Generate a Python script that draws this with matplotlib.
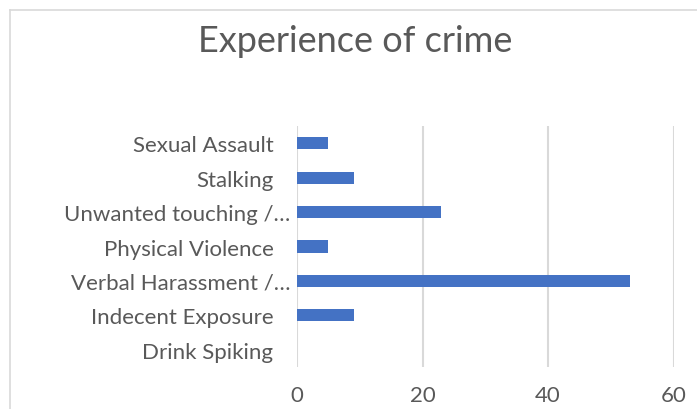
import matplotlib
matplotlib.use("Agg")
import matplotlib.pyplot as plt
from matplotlib.transforms import ScaledTranslation
from matplotlib.lines import Line2D

categories = ["Sexual Assault", "Stalking", "Unwanted touching /…", "Physical Violence",
              "Verbal Harassment /…", "Indecent Exposure", "Drink Spiking"]
values = [5, 9, 23, 5, 53, 9, 0]
xticks = [0, 20, 40, 60]
title = "Experience of crime"

plt.rcParams['font.family'] = ['Lato', 'DejaVu Sans']
grey = '#595959'

fig = plt.figure(figsize=(6.97, 4.10), dpi=100)
ax = fig.add_axes([297/697, 1-368/410, (673.7-297)/697, (368-127)/410])

n = len(categories)
ypos = list(range(n))
ax.barh(ypos, values, height=0.35, color='#4472C4', zorder=3)
ax.set_ylim(n-0.5, -0.5)
ax.set_xlim(0, 60)
ax.set_xticks(xticks)
ax.set_xticklabels([str(t) for t in xticks], fontsize=16, color=grey)
ax.set_yticks(ypos)
ax.set_yticklabels(categories, fontsize=16, color=grey)
ax.tick_params(axis='y', length=0, pad=17)
ax.tick_params(axis='x', length=0, pad=13)
ax.grid(axis='x', color='#D9D9D9', linewidth=1.5, zorder=0)
for s in ax.spines.values():
    s.set_visible(False)

# Excel places truncated labels slightly further right
for lbl in ax.get_yticklabels():
    if lbl.get_text().endswith('…'):
        lbl.set_transform(lbl.get_transform() + ScaledTranslation(17/100, 0, fig.dpi_scale_trans))

fig.text(355/697, 1-42/410, title, ha='center', va='center', fontsize=26, color=grey)

# chart border
fig.add_artist(Line2D([10/697, 10/697], [0, 1-11/410], color='#D9D9D9', linewidth=1.2))
fig.add_artist(Line2D([10/697, 1], [1-11/410, 1-11/410], color='#D9D9D9', linewidth=1.2))

fig.savefig('out.png', dpi=100)
